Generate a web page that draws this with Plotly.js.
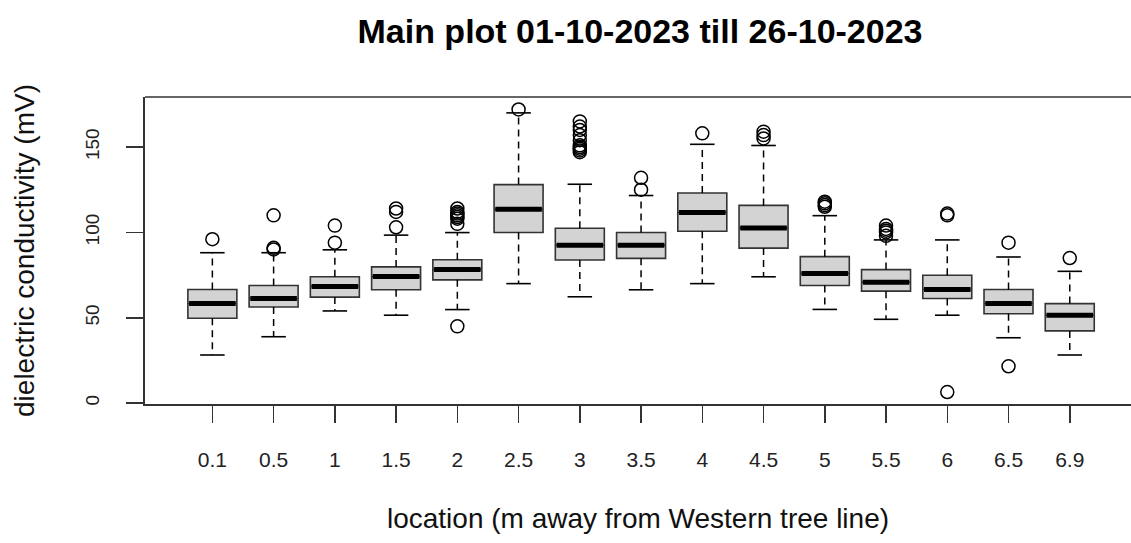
<!DOCTYPE html>
<html>
<head>
<meta charset="utf-8">
<script src="https://cdn.plot.ly/plotly-3.0.1.min.js"></script>
<style>html,body{margin:0;padding:0;background:#fff;}#chart{width:1131px;height:543px;}</style>
</head>
<body>
<div id="chart"></div>
<script>
// ---- data ----
const locations = ['0.1','0.5','1','1.5','2','2.5','3','3.5','4','4.5','5','5.5','6','6.5','6.9'];
const lowerWhisker = [28.2, 38.9, 54.0, 51.5, 54.8, 70.0, 62.3, 66.4, 70.0, 74.0, 54.9, 49.1, 51.5, 38.3, 28.2];
const q1Values     = [49.7, 56.3, 62.1, 66.4, 72.2, 99.9, 83.8, 84.8, 100.7, 90.8, 68.9, 65.6, 61.3, 52.4, 42.3];
const medianValues = [58.4, 61.3, 68.3, 74.1, 78.2, 113.5, 92.5, 92.5, 111.7, 102.6, 76.0, 70.8, 66.6, 58.4, 51.5];
const q3Values     = [66.6, 68.9, 74.0, 79.8, 84.0, 128.0, 102.4, 99.9, 123.1, 115.8, 85.8, 78.2, 74.9, 66.6, 58.3];
const upperWhisker = [88.1, 88.1, 89.8, 98.4, 99.9, 170.0, 128.2, 121.6, 151.6, 150.9, 109.8, 95.6, 95.6, 85.6, 77.2];
// outliers: location label + value
const outlierLocation = ['0.1','0.5','0.5','0.5','1','1','1.5','1.5','1.5',
  '2','2','2','2','2','2','2','2','2.5',
  '3','3','3','3','3','3','3','3','3','3',
  '3.5','3.5','4','4.5','4.5','4.5',
  '5','5','5','5','5.5','5.5','5.5','5.5','5.5',
  '6','6','6','6.5','6.5','6.9'];
const outlierValue = [96, 110, 91, 90, 104, 94, 114, 112, 103,
  114, 112, 111, 110, 109, 108, 105, 45, 172,
  165, 162, 160, 157, 154, 151, 150, 149, 148, 147,
  132, 125, 158, 159, 157, 155,
  118, 117, 116, 115, 104, 102, 101, 100, 98,
  111, 110, 6.5, 94, 21.6, 85];
const yTicks = [0, 50, 100, 150];

// ---- build traces ----
const pos = locations.map((_, i) => i + 1);
const posOf = lab => locations.indexOf(lab) + 1;
const BOXW = 0.8, CAPW = 0.4;

const boxTrace = {
  type: 'box', x: pos, q1: q1Values, median: medianValues, q3: q3Values,
  lowerfence: q1Values, upperfence: q3Values,
  width: BOXW, whiskerwidth: 0, boxpoints: false,
  fillcolor: '#d3d3d3', line: {color: '#333333', width: 1.6},
  hoverinfo: 'skip', showlegend: false
};

const wx = [], wy = [];
pos.forEach((p, i) => {
  wx.push(p, p, null, p, p, null);
  wy.push(q3Values[i], upperWhisker[i], null, q1Values[i], lowerWhisker[i], null);
});
const whiskers = {type: 'scatter', mode: 'lines', x: wx, y: wy,
  line: {color: '#000', width: 1.5, dash: '7px,5px'}, hoverinfo: 'skip', showlegend: false};

const cx = [], cy = [];
pos.forEach((p, i) => {
  cx.push(p - CAPW/2, p + CAPW/2, null, p - CAPW/2, p + CAPW/2, null);
  cy.push(upperWhisker[i], upperWhisker[i], null, lowerWhisker[i], lowerWhisker[i], null);
});
const caps = {type: 'scatter', mode: 'lines', x: cx, y: cy,
  line: {color: '#000', width: 1.6}, hoverinfo: 'skip', showlegend: false};

const mx = [], my = [];
pos.forEach((p, i) => {
  mx.push(p - BOXW/2 + 0.02, p + BOXW/2 - 0.02, null);
  my.push(medianValues[i], medianValues[i], null);
});
const medians = {type: 'scatter', mode: 'lines', x: mx, y: my,
  line: {color: '#000', width: 5}, hoverinfo: 'skip', showlegend: false};

const outliers = {type: 'scatter', mode: 'markers',
  x: outlierLocation.map(posOf), y: outlierValue,
  marker: {symbol: 'circle-open', size: 13, color: '#000', line: {width: 1.5, color: '#000'}},
  hoverinfo: 'skip', showlegend: false};

const FONT = 'Liberation Sans, Arial, sans-serif';
const layout = {
  width: 1131, height: 543,
  margin: {l: 145, r: 0, t: 97, b: 139},
  paper_bgcolor: '#fff', plot_bgcolor: '#fff',
  font: {family: FONT, color: '#222'},
  title: {text: 'Main plot 01-10-2023 till 26-10-2023',
    font: {family: FONT, size: 34, weight: 'bold', color: '#000'},
    xref: 'container', x: 640/1131, xanchor: 'center',
    yref: 'container', y: 1 - 31/543, yanchor: 'middle'},
  xaxis: {
    range: [-0.1, 16.0], showgrid: false, zeroline: false,
    showline: true, linecolor: '#333', linewidth: 1.6,
    tickmode: 'array', tickvals: pos, ticktext: locations,
    ticks: 'outside', ticklen: 17, tickwidth: 1.5, tickcolor: '#333',
    tickfont: {size: 21, color: '#222'}, ticklabelstandoff: 19,
    title: {text: 'location (m away from Western tree line)', font: {size: 28, color: '#111'}, standoff: 38}
  },
  yaxis: {
    range: [-0.5, 179.3], showgrid: false, zeroline: false,
    showline: true, linecolor: '#333', linewidth: 1.6,
    tickmode: 'array', tickvals: yTicks,
    ticks: 'outside', ticklen: 17, tickwidth: 1.5, tickcolor: '#333',
    tickangle: -90, tickfont: {size: 19, color: '#222'}, ticklabelstandoff: 20,
    title: {text: 'dielectric conductivity (mV)', font: {size: 28, color: '#111'}, standoff: 39}
  },
  shapes: [{type: 'line', xref: 'paper', yref: 'paper', x0: 0, x1: 1.01, y0: 1, y1: 1,
    line: {color: '#333', width: 1.6}}]
};

Plotly.newPlot('chart', [boxTrace, whiskers, caps, medians, outliers], layout,
  {staticPlot: true, displayModeBar: false});
</script>
</body>
</html>
